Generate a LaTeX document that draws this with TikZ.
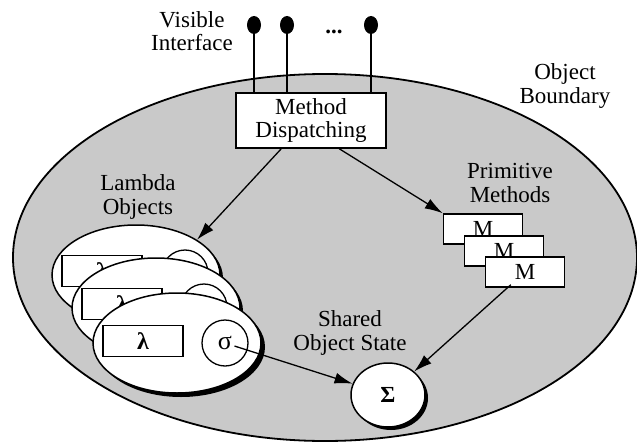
\documentclass[tikz,border=0pt]{standalone}
\usepackage{fontspec}
\setmainfont{Liberation Serif}
\usetikzlibrary{arrows.meta,calc,shapes.geometric}

\begin{document}
\begin{tikzpicture}[x=1pt,y=-1pt,
  lbl/.style={align=center,font=\fontsize{23}{23.5}\selectfont,inner sep=0pt},
  boxs/.style={draw,line width=1.5pt,fill=white,inner sep=0pt,font=\fontsize{23}{23.5}\selectfont},
  lamell/.style={ellipse,draw,line width=1.5pt,fill=white,minimum width=168pt,minimum height=100pt,inner sep=0pt},
  lamshad/.style={ellipse,fill=black,minimum width=168pt,minimum height=100pt,inner sep=0pt},
  lambox/.style={boxs,minimum width=80pt,minimum height=31pt,font=\fontsize{24}{24}\selectfont\bfseries},
  sigc/.style={circle,draw,line width=1.3pt,fill=white,minimum size=46pt,inner sep=0pt,font=\fontsize{26}{26}\selectfont},
  mbox/.style={boxs,minimum width=79pt,minimum height=30pt},
  pin/.style={ellipse,fill=black,minimum width=14pt,minimum height=18pt,inner sep=0pt},
  pinline/.style={line width=1.5pt},
  arr/.style={line width=1.3pt,-{Latex[length=18pt,width=11pt]}}
]
\useasboundingbox (0,0) rectangle (637,444);

% object boundary
\node[ellipse,draw,line width=1.8pt,fill=black!21,minimum width=624pt,minimum height=367pt,inner sep=0pt] (bound) at (325,257.5) {};

% method dispatching
\node[boxs,minimum width=150pt,minimum height=55pt,align=center] (disp) at (311,120.5) {Method\\[-1pt]Dispatching};

% pins
\node[pin] (p1) at (254,25) {};
\node[pin] (p2) at (287,25) {};
\node[pin] (p3) at (371,25) {};
\draw[pinline] (p1.center) -- (p1 |- disp.north);
\draw[pinline] (p2.center) -- (p2 |- disp.north);
\draw[pinline] (p3.center) -- (p3 |- disp.north);
\node[anchor=base,font=\fontsize{23}{23}\selectfont\bfseries,inner sep=0pt] (dots) at (334,34) {...};

% labels
\node[lbl] (vis) at (192,31) {Visible\\Interface};
\node[lbl] (ob) at (565,86) {Object\\Boundary};
\node[lbl] (lo) at (138,197) {Lambda\\Objects};
\node[lbl] (pm) at (510,183) {Primitive\\Methods};
\node[lbl] (sos) at (350,333) {Shared\\Object State};

% lambda objects
\node[lamshad] (lam1s) at (139,278) {};
\node[lamell] (lam1) at (136,275) {};
\node[lambox] (lb1) at (102,271) {λ};
\node[sigc] (sg1) at (185,273) {σ};
\node[lamshad] (lam2s) at (159,311) {};
\node[lamell] (lam2) at (156,308) {};
\node[lambox] (lb2) at (122,304) {λ};
\node[sigc] (sg2) at (204,307) {σ};
\node[lamshad] (lam3s) at (181,347) {};
\node[lamell] (lam3) at (177,343) {};
\node[lambox] (lb3) at (143,341) {λ};
\node[sigc] (sg3) at (225,343) {σ};

% primitive methods
\node[mbox] (m1) at (483,229) {M};
\node[mbox] (m2) at (504,251) {M};
\node[mbox] (m3) at (525,272) {M};

% shared state
\node[ellipse,fill=black,minimum width=74pt,minimum height=64pt,inner sep=0pt] (Sigs) at (391,398) {};
\node[ellipse,draw,line width=1.5pt,fill=white,minimum width=74pt,minimum height=64pt,inner sep=0pt,font=\fontsize{23}{23}\selectfont\bfseries] (Sig) at (388,395) {Σ};

% arrows
\draw[arr] ($(disp.south west)+(46,0)$) -- (lam1.30);
\draw[arr] ($(disp.south west)+(104,0)$) -- (m1.north west);
\draw[arr,shorten <=10pt] (sg3.center) -- (Sig);
\draw[arr,shorten <=19pt] (m3.center) -- (Sig);
\end{tikzpicture}
\end{document}
